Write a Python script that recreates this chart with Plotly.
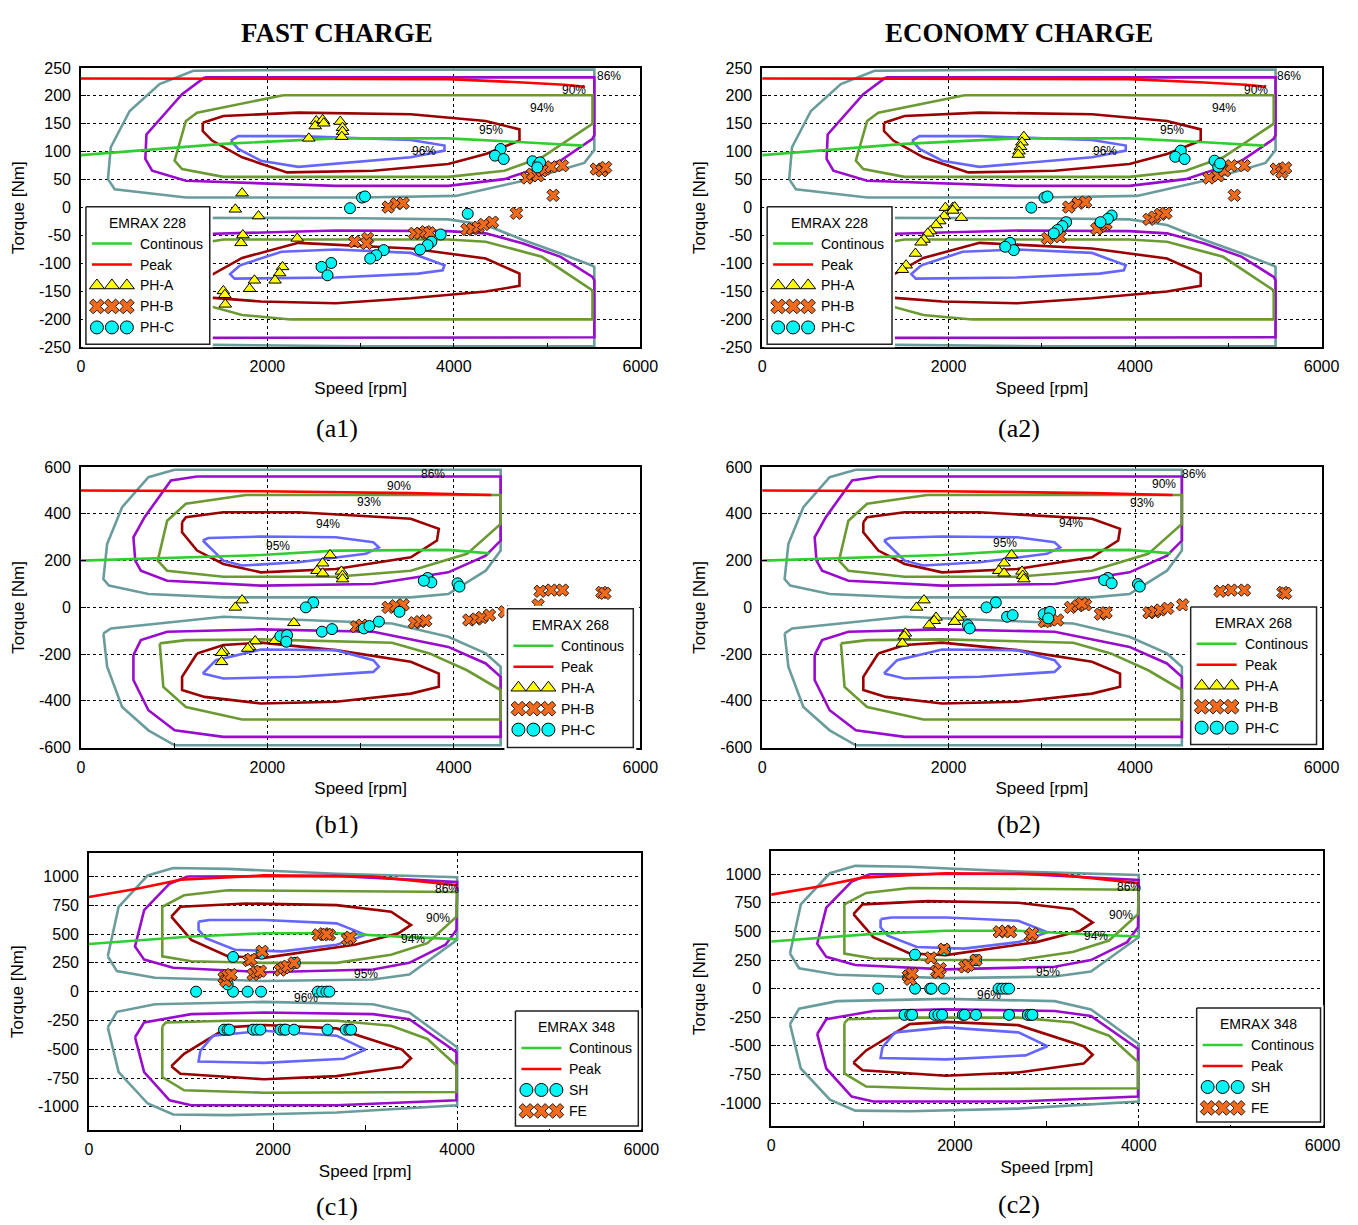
import plotly.graph_objects as go

W, H = 1358, 1225          # target picture size
# the page is photographed slightly scaled and offset; positions below are given in
# target-picture pixels and converted with this measured mapping
SX, SY = 0.985, 0.988
OX, OY = 9.0, 15.0
FW, FH = 1366, 1226

# ------------------------------------------------------------------ data
# tick labels
X_TICKS = [0, 2000, 4000, 6000]
X_TICKTEXT = ["0", "2000", "4000", "6000"]
X_MINOR = [1000, 3000, 5000]
Y_TICKS_A = [-250, -200, -150, -100, -50, 0, 50, 100, 150, 200, 250]
Y_TICKTEXT_A = ["-250", "-200", "-150", "-100", "-50", "0", "50", "100", "150", "200", "250"]
Y_TICKS_B = [-600, -400, -200, 0, 200, 400, 600]
Y_TICKTEXT_B = ["-600", "-400", "-200", "0", "200", "400", "600"]
Y_TICKS_C = [-1000, -750, -500, -250, 0, 250, 500, 750, 1000]
Y_TICKTEXT_C = ["-1000", "-750", "-500", "-250", "0", "250", "500", "750", "1000"]

# ---- EMRAX 228 efficiency contours (speed rpm, torque Nm)
E228_86_TOP_RPM = [290, 320, 523, 844, 1206, 3000, 5507, 5507, 5400, 4744, 4020, 3000, 1126, 362, 290]
E228_86_TOP_T = [51, 108, 173, 221, 245, 247, 247, 103, 80, 48, 21, 18, 18, 33, 51]
E228_86_BOT_RPM = [290, 362, 1126, 3000, 3940, 4342, 4744, 5146, 5487, 5507, 5507, 3000, 1206, 844, 523, 320, 290]
E228_86_BOT_T = [-51, -33, -18, -19, -21, -31, -58, -82, -104, -106, -248, -248, -245, -221, -173, -108, -51]
E228_90_TOP_RPM = [1327, 1085, 703, 691, 764, 1126, 2733, 3940, 4543, 5146, 5487, 5507, 5507, 1327]
E228_90_TOP_T = [233, 203, 131, 87, 66, 48, 39, 39, 51, 84, 123, 130, 233, 233]
E228_90_BOT_RPM = [1327, 1085, 703, 691, 764, 1126, 2733, 3940, 4342, 4744, 5146, 5487, 5507, 5507, 1327]
E228_90_BOT_T = [-233, -203, -131, -87, -66, -48, -41, -42, -46, -64, -88, -124, -130, -232, -233]
E228_94_TOP_RPM = [2171, 1246, 1126, 1005, 1085, 1528, 3940, 4543, 4945, 5487, 5487, 2171]
E228_94_TOP_T = [201, 170, 155, 84, 69, 55, 55, 66, 90, 150, 201, 201]
E228_94_BOT_RPM = [2251, 1729, 1246, 1126, 1005, 1085, 1528, 3940, 4342, 4945, 5487, 5487, 2251]
E228_94_BOT_T = [-200, -192, -170, -155, -84, -69, -57, -57, -61, -88, -148, -200, -200]
E228_95_TOP_RPM = [1307, 1307, 1407, 1729, 2211, 3136, 3940, 4342, 4704, 4704, 4342, 3538, 2332, 1528, 1307]
E228_95_TOP_T = [152, 137, 120, 90, 63, 66, 78, 96, 120, 140, 155, 167, 170, 164, 152]
E228_95_BOT_RPM = [1307, 1307, 1407, 1729, 2332, 3538, 4342, 4704, 4704, 4342, 3538, 2734, 1930, 1387, 1307]
E228_95_BOT_T = [-152, -137, -120, -90, -63, -73, -91, -118, -140, -150, -162, -171, -168, -161, -152]
E228_96_TOP_RPM = [1608, 1688, 2332, 3538, 3900, 3900, 3538, 2734, 2332, 1930, 1688, 1608]
E228_96_TOP_T = [120, 128, 128, 121, 111, 102, 90, 78, 73, 84, 105, 120]
E228_96_BOT_RPM = [1708, 2151, 2734, 3538, 3900, 3880, 3618, 2734, 1648, 1600, 1708]
E228_96_BOT_T = [-103, -79, -75, -81, -103, -112, -118, -125, -127, -119, -103]
E228_CONT_RPM = [0, 1528, 2734, 3940, 4744, 5387]
E228_CONT_T = [94, 114, 124, 124, 117, 111]
E228_PEAK_RPM = [0, 3940, 4744, 5186, 5407]
E228_PEAK_T = [231, 230, 224, 220, 216]

# ---- EMRAX 268
E268_86_TOP_RPM = [1005, 724, 442, 281, 241, 301, 724, 1528, 3538, 3940, 4342, 4502, 4502, 1005]
E268_86_TOP_T = [589, 557, 429, 271, 121, 93, 57, 43, 43, 57, 157, 243, 589, 589]
E268_86_BOT_RPM = [241, 281, 442, 724, 1005, 4502, 4502, 4342, 3940, 3337, 1528, 322, 241]
E268_86_BOT_T = [-111, -254, -426, -526, -590, -590, -254, -197, -126, -69, -40, -90, -111]
E268_90_TOP_RPM = [1246, 965, 683, 563, 583, 643, 925, 1930, 3136, 3940, 4342, 4502, 4502, 1246]
E268_90_TOP_T = [560, 543, 386, 300, 200, 157, 114, 93, 100, 150, 221, 286, 560, 560]
E268_90_BOT_RPM = [563, 563, 724, 1005, 1528, 4502, 4502, 4342, 3940, 3136, 1930, 925, 643, 563]
E268_90_BOT_T = [-204, -311, -440, -526, -554, -554, -297, -240, -169, -104, -94, -104, -140, -204]
E268_93_TOP_RPM = [1769, 1126, 925, 864, 824, 925, 1528, 2734, 3538, 4141, 4502, 4502, 1769]
E268_93_TOP_T = [481, 443, 371, 271, 200, 157, 131, 131, 157, 229, 357, 481, 481]
E268_93_BOT_RPM = [845, 884, 1126, 1729, 4502, 4502, 4141, 3739, 3337, 1930, 1126, 845]
E268_93_BOT_T = [-154, -340, -426, -480, -480, -354, -269, -197, -151, -137, -140, -154]
E268_94_TOP_RPM = [1085, 1085, 1246, 1528, 1930, 2734, 3538, 3819, 3839, 3538, 2332, 1528, 1126, 1085]
E268_94_TOP_T = [364, 321, 243, 186, 150, 164, 214, 286, 336, 379, 407, 407, 386, 364]
E268_94_BOT_RPM = [1246, 1085, 1085, 1327, 1930, 2734, 3538, 3839, 3839, 3538, 2734, 1930, 1528, 1246]
E268_94_BOT_T = [-197, -297, -354, -383, -411, -404, -369, -340, -283, -233, -183, -151, -161, -197]
E268_95_TOP_RPM = [1307, 1367, 1930, 2734, 3136, 3196, 3055, 2332, 1729, 1528, 1307]
E268_95_TOP_T = [286, 297, 303, 300, 279, 257, 229, 193, 179, 200, 286]
E268_95_BOT_RPM = [1307, 1448, 1930, 2734, 3136, 3196, 3136, 2332, 1528, 1307]
E268_95_BOT_T = [-283, -226, -180, -183, -226, -254, -276, -297, -304, -283]
E268_CONT_RPM = [0, 1930, 2734, 3538, 3940, 4382]
E268_CONT_T = [200, 224, 243, 246, 246, 231]
E268_PEAK_RPM = [0, 1930, 3538, 4402]
E268_PEAK_T = [500, 497, 489, 481]

# ---- EMRAX 348
E348_86_TOP_RPM = [205, 304, 718, 1901, 3085, 3480, 4000, 4000, 2690, 1507, 915, 639, 323, 205]
E348_86_TOP_T = [307, 178, 121, 92, 106, 149, 450, 994, 1023, 1066, 1074, 1009, 737, 307]
E348_86_BOT_RPM = [205, 304, 718, 1901, 3085, 3480, 4000, 4000, 2690, 1507, 915, 639, 323, 205]
E348_86_BOT_T = [-310, -175, -109, -89, -109, -181, -483, -986, -1049, -1072, -1066, -971, -698, -310]
E348_90_TOP_RPM = [1073, 876, 600, 501, 600, 915, 1901, 3085, 3480, 3874, 3992, 4000, 2690, 1073]
E348_90_TOP_T = [1000, 937, 708, 393, 278, 207, 169, 192, 250, 407, 536, 951, 1005, 1000]
E348_90_BOT_RPM = [501, 600, 1112, 1901, 3085, 3480, 3992, 3992, 2690, 1112, 876, 600, 501]
E348_90_BOT_T = [-396, -267, -195, -181, -195, -239, -526, -943, -986, -986, -943, -698, -396]
E348_94_TOP_RPM = [1507, 1034, 797, 797, 1112, 1901, 2690, 3282, 3677, 3992, 4000, 1507]
E348_94_TOP_T = [880, 837, 737, 307, 264, 250, 250, 321, 421, 651, 865, 880]
E348_94_BOT_RPM = [797, 836, 1507, 2690, 3282, 3677, 3992, 3992, 1901, 1034, 797, 797]
E348_94_BOT_T = [-302, -267, -253, -253, -296, -411, -641, -871, -877, -856, -741, -302]
E348_95_TOP_RPM = [895, 994, 1704, 2690, 3282, 3499, 3362, 2887, 1901, 1507, 1112, 895]
E348_95_TOP_T = [651, 737, 765, 751, 694, 579, 507, 407, 293, 307, 450, 651]
E348_95_BOT_RPM = [895, 1034, 1507, 1901, 2690, 3400, 3499, 3400, 2690, 1901, 994, 895]
E348_95_BOT_T = [-647, -540, -310, -290, -319, -503, -578, -655, -733, -761, -713, -647]
E348_96_TOP_RPM = [1191, 1310, 1901, 2690, 3006, 2690, 2099, 1586, 1270, 1191, 1191]
E348_96_TOP_T = [608, 622, 622, 593, 493, 407, 350, 364, 464, 536, 608]
E348_96_BOT_RPM = [1211, 1349, 1901, 2690, 3006, 2769, 1901, 1191, 1211]
E348_96_BOT_T = [-512, -382, -339, -382, -503, -583, -618, -606, -512]
E348_CONT_RPM = [0, 1112, 1901, 2690, 3480, 4000]
E348_CONT_T = [413, 479, 507, 507, 473, 456]
E348_PEAK_RPM = [0, 521, 994, 1901, 3085, 3480, 4000]
E348_PEAK_T = [822, 894, 971, 1009, 1000, 966, 923]

# ---- contour label text and positions
A_LABELS = ["86%", "90%", "94%", "95%", "96%"]
A1_LABEL_RPM = [5668, 5286, 4945, 4402, 3678]
A1_LABEL_T = [236, 210, 179, 139, 101]
A2_LABEL_RPM = [5654, 5293, 4952, 4391, 3677]
A2_LABEL_T = [236, 210, 179, 139, 101]
B_LABELS = ["86%", "90%", "93%", "94%", "95%"]
B1_LABEL_RPM = [3779, 3417, 3095, 2653, 2111]
B1_LABEL_T = [569, 521, 450, 357, 264]
B2_LABEL_RPM = [4632, 4311, 4070, 3316, 2607]
B2_LABEL_T = [571, 526, 446, 360, 274]
C_LABELS = ["86%", "90%", "94%", "95%", "96%"]
C1_LABEL_RPM = [3894, 3795, 3519, 3006, 2355]
C1_LABEL_T = [894, 636, 456, 149, -57]
C2_LABEL_RPM = [3898, 3804, 3530, 3014, 2372]
C2_LABEL_T = [892, 643, 462, 146, -58]

# ---- operating points
A1_PHA_RPM = [2444, 2525, 2513, 2593, 2605, 2782, 2806, 2806, 2798, 1729, 1656, 1905, 1737, 1717, 2320, 2163, 2131, 2082, 1861, 1809, 1528, 1544, 1548]
A1_PHA_T = [124, 155, 146, 157, 151, 154, 143, 136, 127, 26, -3, -15, -49, -63, -55, -106, -117, -130, -130, -145, -149, -156, -173]
A1_PHB_RPM = [3296, 3385, 3457, 4784, 4844, 4904, 4945, 4977, 5045, 5166, 5528, 5588, 5628, 5065, 4671, 3578, 3638, 3698, 3739, 3075, 3063, 2935, 4141, 4201, 4262, 4322, 4414]
A1_PHB_T = [1, 7, 8, 53, 60, 57, 66, 69, 73, 75, 69, 66, 72, 22, -10, -46, -46, -43, -45, -55, -64, -61, -39, -38, -35, -30, -26]
A1_PHC_RPM = [4502, 4442, 4535, 4844, 4904, 4925, 4896, 3015, 3047, 2886, 4149, 3859, 3759, 3719, 3638, 3248, 3168, 3103, 2685, 2581, 2645]
A1_PHC_T = [105, 93, 87, 83, 77, 81, 72, 18, 20, -1, -11, -48, -61, -67, -75, -76, -85, -91, -99, -106, -121]

A2_PHA_RPM = [2807, 2787, 2771, 2755, 2747, 1965, 2045, 2065, 2045, 1953, 1905, 1865, 1805, 1777, 1736, 1704, 1644, 1544, 1504, 2137]
A2_PHA_T = [127, 117, 109, 101, 95, 0, 0, 1, -5, -15, -24, -31, -42, -46, -57, -62, -82, -103, -111, -18]
A2_PHB_RPM = [3288, 3389, 3469, 4792, 4892, 4960, 5032, 5173, 5514, 5574, 5614, 5065, 4150, 4210, 4270, 4330, 3629, 3689, 3589, 3060, 3196]
A2_PHB_T = [1, 8, 10, 53, 57, 66, 75, 75, 69, 63, 71, 22, -21, -17, -12, -10, -33, -29, -38, -55, -52]
A2_PHC_RPM = [4491, 4431, 4531, 4852, 4892, 4912, 3028, 3060, 2887, 3749, 3709, 3629, 3260, 3220, 3168, 3128, 2659, 2699, 2607]
A2_PHC_T = [102, 91, 87, 84, 73, 79, 18, 20, 0, -14, -20, -26, -26, -33, -40, -46, -63, -76, -70]

B1_PHA_RPM = [2673, 2593, 2533, 2593, 2794, 2806, 2806, 1729, 1656, 2284, 2082, 1869, 1809, 1789, 1528, 1508, 1508]
B1_PHA_T = [224, 189, 157, 146, 154, 136, 121, 31, 0, -66, -143, -144, -169, -176, -187, -194, -233]
B1_PHB_RPM = [3296, 3377, 3457, 4925, 5045, 5166, 5588, 5620, 4904, 3578, 3638, 3698, 2955, 3015, 4161, 4241, 4302, 4382, 4543]
B1_PHB_T = [0, 7, 11, 69, 74, 74, 64, 60, 11, -66, -61, -57, -83, -76, -54, -50, -43, -33, -19]
B1_PHC_RPM = [3719, 3759, 3678, 4040, 4060, 2492, 2412, 3417, 2139, 2211, 2203, 2585, 2693, 3035, 3095, 3196]
B1_PHC_T = [126, 107, 114, 103, 89, 21, 0, -19, -123, -119, -147, -104, -93, -90, -80, -61]

B2_PHA_RPM = [2675, 2595, 2538, 2595, 2787, 2795, 2807, 1736, 1656, 1865, 1845, 1792, 2125, 2097, 2065, 1536, 1524, 1504]
B2_PHA_T = [224, 189, 157, 146, 154, 136, 121, 31, 0, -43, -57, -76, -29, -43, -61, -111, -123, -154]
B2_PHB_RPM = [4912, 5032, 5173, 5586, 5614, 3308, 3389, 3469, 4511, 3429, 3629, 3689, 4150, 4210, 4270, 4350, 3060, 3168, 3028]
B2_PHB_T = [69, 74, 74, 64, 60, 0, 7, 11, 11, 17, -29, -23, -23, -19, -11, -4, -57, -54, -61]
B2_PHC_RPM = [3709, 3669, 3749, 4030, 4050, 2506, 2406, 2206, 2226, 2627, 2687, 3020, 3088, 3068]
B2_PHC_T = [126, 117, 103, 100, 89, 21, 0, -76, -90, -40, -33, -29, -19, -47]

C1_SH_RPM = [1164, 1566, 1724, 1870, 2485, 2533, 2580, 2612, 1566, 1874, 2237, 1507,
             1468, 1507, 1527, 1783, 1823, 1862, 2079, 2118, 2138, 2229, 2592, 2789, 2829, 2848]
C1_SH_T = [0, 0, 0, 0, 0, 0, 0, 0, 301, 330, 250, 63,
           -330, -330, -330, -330, -330, -330, -330, -330, -330, -330, -330, -330, -330, -330]
C1_FE_RPM = [2493, 2552, 2612, 2582, 2809, 2840, 1882, 1736, 1760, 1468, 1487, 1507, 1546, 1783, 1823, 1862, 2079, 2118, 2158, 2229]
C1_FE_T = [493, 502, 493, 498, 456, 473, 350, 270, 280, 121, 92, 141, 149, 149, 169, 178, 187, 207, 221, 250]

C2_SH_RPM = [1166, 1566, 1730, 1746, 1881, 2474, 2515, 2556, 2589, 1566, 1890, 2229, 1493,
             1452, 1513, 1534, 1779, 1820, 1861, 2086, 2106, 2229, 2589, 2793, 2822, 2843]
C2_SH_T = [0, 0, 0, 0, 0, 0, 0, 0, 0, 298, 336, 249, 102,
           -229, -229, -229, -229, -229, -229, -229, -229, -229, -229, -229, -229, -229]
C2_FE_RPM = [2483, 2548, 2605, 2822, 2843, 1881, 1738, 1493, 1513, 1534, 1800, 1840, 1820, 2106, 2147, 2229]
C2_FE_T = [497, 503, 497, 462, 482, 345, 269, 111, 82, 132, 152, 175, 140, 190, 205, 249]

LEGEND_TITLES = ["EMRAX 228", "EMRAX 228", "EMRAX 268", "EMRAX 268", "EMRAX 348", "EMRAX 348"]
PH_NAMES = ["PH-A", "PH-B", "PH-C"]
C_NAMES = ["SH", "FE"]

# ------------------------------------------------------------------ styles
C86, C90, C94, C95, C96 = "#6b9c9c", "#9a0ccc", "#6b9a33", "#990000", "#6666ff"
CCONT, CPEAK = "#33cc33", "#ff0000"
LW = 2.6
SANS = "Liberation Sans, Arial, sans-serif"
SERIF = "Liberation Serif, Times New Roman, serif"

MK = {
    "tri": dict(symbol="triangle-up", size=11, color="#ffff00", line=dict(color="black", width=1)),
    "x": dict(symbol="x", size=11, color="#f26b1d", line=dict(color="#2a1a10", width=1)),
    "circ": dict(symbol="circle", size=11, color="#00f5f5", line=dict(color="black", width=1)),
}

CONT228 = [(E228_86_TOP_RPM, E228_86_TOP_T, C86), (E228_86_BOT_RPM, E228_86_BOT_T, C86),
           (E228_90_TOP_RPM, E228_90_TOP_T, C90), (E228_90_BOT_RPM, E228_90_BOT_T, C90),
           (E228_94_TOP_RPM, E228_94_TOP_T, C94), (E228_94_BOT_RPM, E228_94_BOT_T, C94),
           (E228_95_TOP_RPM, E228_95_TOP_T, C95), (E228_95_BOT_RPM, E228_95_BOT_T, C95),
           (E228_96_TOP_RPM, E228_96_TOP_T, C96), (E228_96_BOT_RPM, E228_96_BOT_T, C96)]
CONT268 = [(E268_86_TOP_RPM, E268_86_TOP_T, C86), (E268_86_BOT_RPM, E268_86_BOT_T, C86),
           (E268_90_TOP_RPM, E268_90_TOP_T, C90), (E268_90_BOT_RPM, E268_90_BOT_T, C90),
           (E268_93_TOP_RPM, E268_93_TOP_T, C94), (E268_93_BOT_RPM, E268_93_BOT_T, C94),
           (E268_94_TOP_RPM, E268_94_TOP_T, C95), (E268_94_BOT_RPM, E268_94_BOT_T, C95),
           (E268_95_TOP_RPM, E268_95_TOP_T, C96), (E268_95_BOT_RPM, E268_95_BOT_T, C96)]
CONT348 = [(E348_86_TOP_RPM, E348_86_TOP_T, C86), (E348_86_BOT_RPM, E348_86_BOT_T, C86),
           (E348_90_TOP_RPM, E348_90_TOP_T, C90), (E348_90_BOT_RPM, E348_90_BOT_T, C90),
           (E348_94_TOP_RPM, E348_94_TOP_T, C94), (E348_94_BOT_RPM, E348_94_BOT_T, C94),
           (E348_95_TOP_RPM, E348_95_TOP_T, C95), (E348_95_BOT_RPM, E348_95_BOT_T, C95),
           (E348_96_TOP_RPM, E348_96_TOP_T, C96), (E348_96_BOT_RPM, E348_96_BOT_T, C96)]

PANELS = [
    dict(xpx=(78, 638), ypx=(67, 347), yr=[-250, 250], yt=(Y_TICKS_A, Y_TICKTEXT_A), cont=CONT228,
         cl=(E228_CONT_RPM, E228_CONT_T), pk=(E228_PEAK_RPM, E228_PEAK_T),
         lab=(A_LABELS, A1_LABEL_RPM, A1_LABEL_T),
         pts=[(A1_PHA_RPM, A1_PHA_T, "tri"), (A1_PHB_RPM, A1_PHB_T, "x"), (A1_PHC_RPM, A1_PHC_T, "circ")],
         names=PH_NAMES, leg=(83, 206, 207, 344), cap="(a1)", capxy=(334, 428)),
    dict(xpx=(760, 1320), ypx=(67, 347), yr=[-250, 250], yt=(Y_TICKS_A, Y_TICKTEXT_A), cont=CONT228,
         cl=(E228_CONT_RPM, E228_CONT_T), pk=(E228_PEAK_RPM, E228_PEAK_T),
         lab=(A_LABELS, A2_LABEL_RPM, A2_LABEL_T),
         pts=[(A2_PHA_RPM, A2_PHA_T, "tri"), (A2_PHB_RPM, A2_PHB_T, "x"), (A2_PHC_RPM, A2_PHC_T, "circ")],
         names=PH_NAMES, leg=(765, 206, 890, 344), cap="(a2)", capxy=(1017, 428)),
    dict(xpx=(78, 638), ypx=(467, 748), yr=[-600, 600], yt=(Y_TICKS_B, Y_TICKTEXT_B), cont=CONT268,
         cl=(E268_CONT_RPM, E268_CONT_T), pk=(E268_PEAK_RPM, E268_PEAK_T),
         lab=(B_LABELS, B1_LABEL_RPM, B1_LABEL_T),
         pts=[(B1_PHA_RPM, B1_PHA_T, "tri"), (B1_PHB_RPM, B1_PHB_T, "x"), (B1_PHC_RPM, B1_PHC_T, "circ")],
         names=PH_NAMES, leg=(505, 609, 631, 748), cap="(b1)", capxy=(334, 825)),
    dict(xpx=(760, 1320), ypx=(467, 748), yr=[-600, 600], yt=(Y_TICKS_B, Y_TICKTEXT_B), cont=CONT268,
         cl=(E268_CONT_RPM, E268_CONT_T), pk=(E268_PEAK_RPM, E268_PEAK_T),
         lab=(B_LABELS, B2_LABEL_RPM, B2_LABEL_T),
         pts=[(B2_PHA_RPM, B2_PHA_T, "tri"), (B2_PHB_RPM, B2_PHB_T, "x"), (B2_PHC_RPM, B2_PHC_T, "circ")],
         names=PH_NAMES, leg=(1189, 607, 1315, 745), cap="(b2)", capxy=(1017, 825)),
    dict(xpx=(86, 639), ypx=(854, 1131), yr=[-1200, 1200], yt=(Y_TICKS_C, Y_TICKTEXT_C), cont=CONT348,
         cl=(E348_CONT_RPM, E348_CONT_T), pk=(E348_PEAK_RPM, E348_PEAK_T),
         lab=(C_LABELS, C1_LABEL_RPM, C1_LABEL_T),
         pts=[(C1_SH_RPM, C1_SH_T, "circ"), (C1_FE_RPM, C1_FE_T, "x")],
         names=C_NAMES, leg=(513, 1012, 636, 1127), cap="(c1)", capxy=(334, 1208)),
    dict(xpx=(769, 1321), ypx=(852, 1127), yr=[-1200, 1200], yt=(Y_TICKS_C, Y_TICKTEXT_C), cont=CONT348,
         cl=(E348_CONT_RPM, E348_CONT_T), pk=(E348_PEAK_RPM, E348_PEAK_T),
         lab=(C_LABELS, C2_LABEL_RPM, C2_LABEL_T),
         pts=[(C2_SH_RPM, C2_SH_T, "circ"), (C2_FE_RPM, C2_FE_T, "x")],
         names=C_NAMES, leg=(1195, 1009, 1319, 1123), cap="(c2)", capxy=(1017, 1206)),
]


def px2x(v):
    return ((v - OX) / SX) / FW


def px2y(v):
    return 1 - ((v - OY) / SY) / FH


def xdom(l, r):
    return [px2x(l), px2x(r)]


def ydom(t, b):
    return [px2y(b), px2y(t)]


fig = go.Figure()
layout = {}
annotations = []

for i, p in enumerate(PANELS):
    n = i + 1
    sx = "" if n == 1 else str(n)
    xa, ya = "x" + sx, "y" + sx
    layout["xaxis" + sx] = dict(
        domain=xdom(*p["xpx"]), range=[0, 6000], anchor=ya,
        tickmode="array", tickvals=X_TICKS, ticktext=X_TICKTEXT,
        ticks="inside", ticklen=5, tickcolor="black", ticklabelstandoff=4,
        minor=dict(tickvals=X_MINOR, ticks="inside", ticklen=5, tickcolor="black", showgrid=False),
        showgrid=True, gridcolor="black", griddash="dot", gridwidth=1,
        showline=True, mirror=True, linecolor="black", linewidth=1.5, zeroline=False,
        tickfont=dict(family=SANS, size=16, color="black"),
        title=dict(text="Speed [rpm]", font=dict(family=SANS, size=17, color="black"), standoff=8),
    )
    layout["yaxis" + sx] = dict(
        domain=ydom(*p["ypx"]), range=p["yr"], anchor=xa,
        tickmode="array", tickvals=p["yt"][0], ticktext=p["yt"][1],
        ticks="inside", ticklen=5, tickcolor="black", ticklabelstandoff=5,
        showgrid=True, gridcolor="black", griddash="dot", gridwidth=1,
        showline=True, mirror=True, linecolor="black", linewidth=1.5, zeroline=False,
        tickfont=dict(family=SANS, size=16, color="black"),
        title=dict(text="Torque [Nm]", font=dict(family=SANS, size=17, color="black"), standoff=10),
    )
    # efficiency contours
    for rx, ty, col in p["cont"]:
        fig.add_trace(go.Scatter(x=rx, y=ty, mode="lines", line=dict(color=col, width=LW),
                                 xaxis=xa, yaxis=ya, showlegend=False, hoverinfo="skip"))
    fig.add_trace(go.Scatter(x=p["cl"][0], y=p["cl"][1], mode="lines", line=dict(color=CCONT, width=LW),
                             xaxis=xa, yaxis=ya, showlegend=False, name="Continous"))
    fig.add_trace(go.Scatter(x=p["pk"][0], y=p["pk"][1], mode="lines", line=dict(color=CPEAK, width=LW),
                             xaxis=xa, yaxis=ya, showlegend=False, name="Peak"))
    for (rx, ty, st), nm in zip(p["pts"], p["names"]):
        fig.add_trace(go.Scatter(x=rx, y=ty, mode="markers", marker=MK[st], name=nm,
                                 xaxis=xa, yaxis=ya, showlegend=False, cliponaxis=False))
    # contour labels
    for txt, lx, ly in zip(*p["lab"]):
        annotations.append(dict(x=lx, y=ly, xref=xa, yref=ya, text=txt, showarrow=False,
                                xanchor="center", yanchor="middle",
                                font=dict(family=SANS, size=12, color="black")))
    # caption
    annotations.append(dict(x=px2x(p["capxy"][0]), y=px2y(p["capxy"][1]), xref="paper", yref="paper",
                            text=p["cap"], showarrow=False, xanchor="center", yanchor="middle",
                            font=dict(family=SERIF, size=26, color="black")))

    # ---- custom legend (own invisible axes, pixel units)
    m = 6 + n
    lx, ly = "x" + str(m), "y" + str(m)
    l0, t0, r0, b0 = p["leg"]
    w, h = r0 - l0, b0 - t0
    pad = 3
    layout["xaxis" + str(m)] = dict(domain=xdom(l0 - pad, r0 + pad), range=[-pad, w + pad], anchor=ly,
                                    visible=False, fixedrange=True)
    layout["yaxis" + str(m)] = dict(domain=ydom(t0 - pad, b0 + pad), range=[h + pad, -pad], anchor=lx,
                                    visible=False, fixedrange=True)
    fig.add_trace(go.Scatter(x=[0, w, w, 0, 0], y=[0, 0, h, h, 0], mode="lines", fill="toself",
                             fillcolor="white", line=dict(color="#222222", width=1.5),
                             xaxis=lx, yaxis=ly, showlegend=False, hoverinfo="skip"))
    rows = [37, 58, 79, 100, 121]
    annotations.append(dict(x=w / 2, y=16, xref=lx, yref=ly, text=LEGEND_TITLES[i], showarrow=False,
                            xanchor="center", yanchor="middle",
                            font=dict(family=SANS, size=14, color="black")))
    items = [("Continous", "line", CCONT), ("Peak", "line", CPEAK)] + \
            [(nm, st, None) for (_, _, st), nm in zip(p["pts"], p["names"])]
    for (label, kind, col), ry in zip(items, rows):
        if kind == "line":
            fig.add_trace(go.Scatter(x=[6, 46], y=[ry, ry], mode="lines", line=dict(color=col, width=2.6),
                                     xaxis=lx, yaxis=ly, showlegend=False, hoverinfo="skip"))
        else:
            fig.add_trace(go.Scatter(x=[11, 26, 41], y=[ry, ry, ry], mode="markers",
                                     marker=dict(MK[kind], size=13),
                                     xaxis=lx, yaxis=ly, showlegend=False, hoverinfo="skip", cliponaxis=False))
        annotations.append(dict(x=52, y=ry, xref=lx, yref=ly, text=label, showarrow=False,
                                xanchor="left", yanchor="middle",
                                font=dict(family=SANS, size=14, color="black")))

# column headers (kept fully inside the drawing area)
annotations.append(dict(x=px2x(334), y=1.0, xref="paper", yref="paper", text="<b>FAST CHARGE</b>",
                        showarrow=False, xanchor="center", yanchor="top",
                        font=dict(family=SERIF, size=27, color="black")))
annotations.append(dict(x=px2x(1017), y=1.0, xref="paper", yref="paper", text="<b>ECONOMY CHARGE</b>",
                        showarrow=False, xanchor="center", yanchor="top",
                        font=dict(family=SERIF, size=27, color="black")))

fig.update_layout(
    width=FW, height=FH, margin=dict(l=0, r=0, t=0, b=0),
    paper_bgcolor="white", plot_bgcolor="white",
    showlegend=False, annotations=annotations, **layout,
)

fig.write_html("out.html")
